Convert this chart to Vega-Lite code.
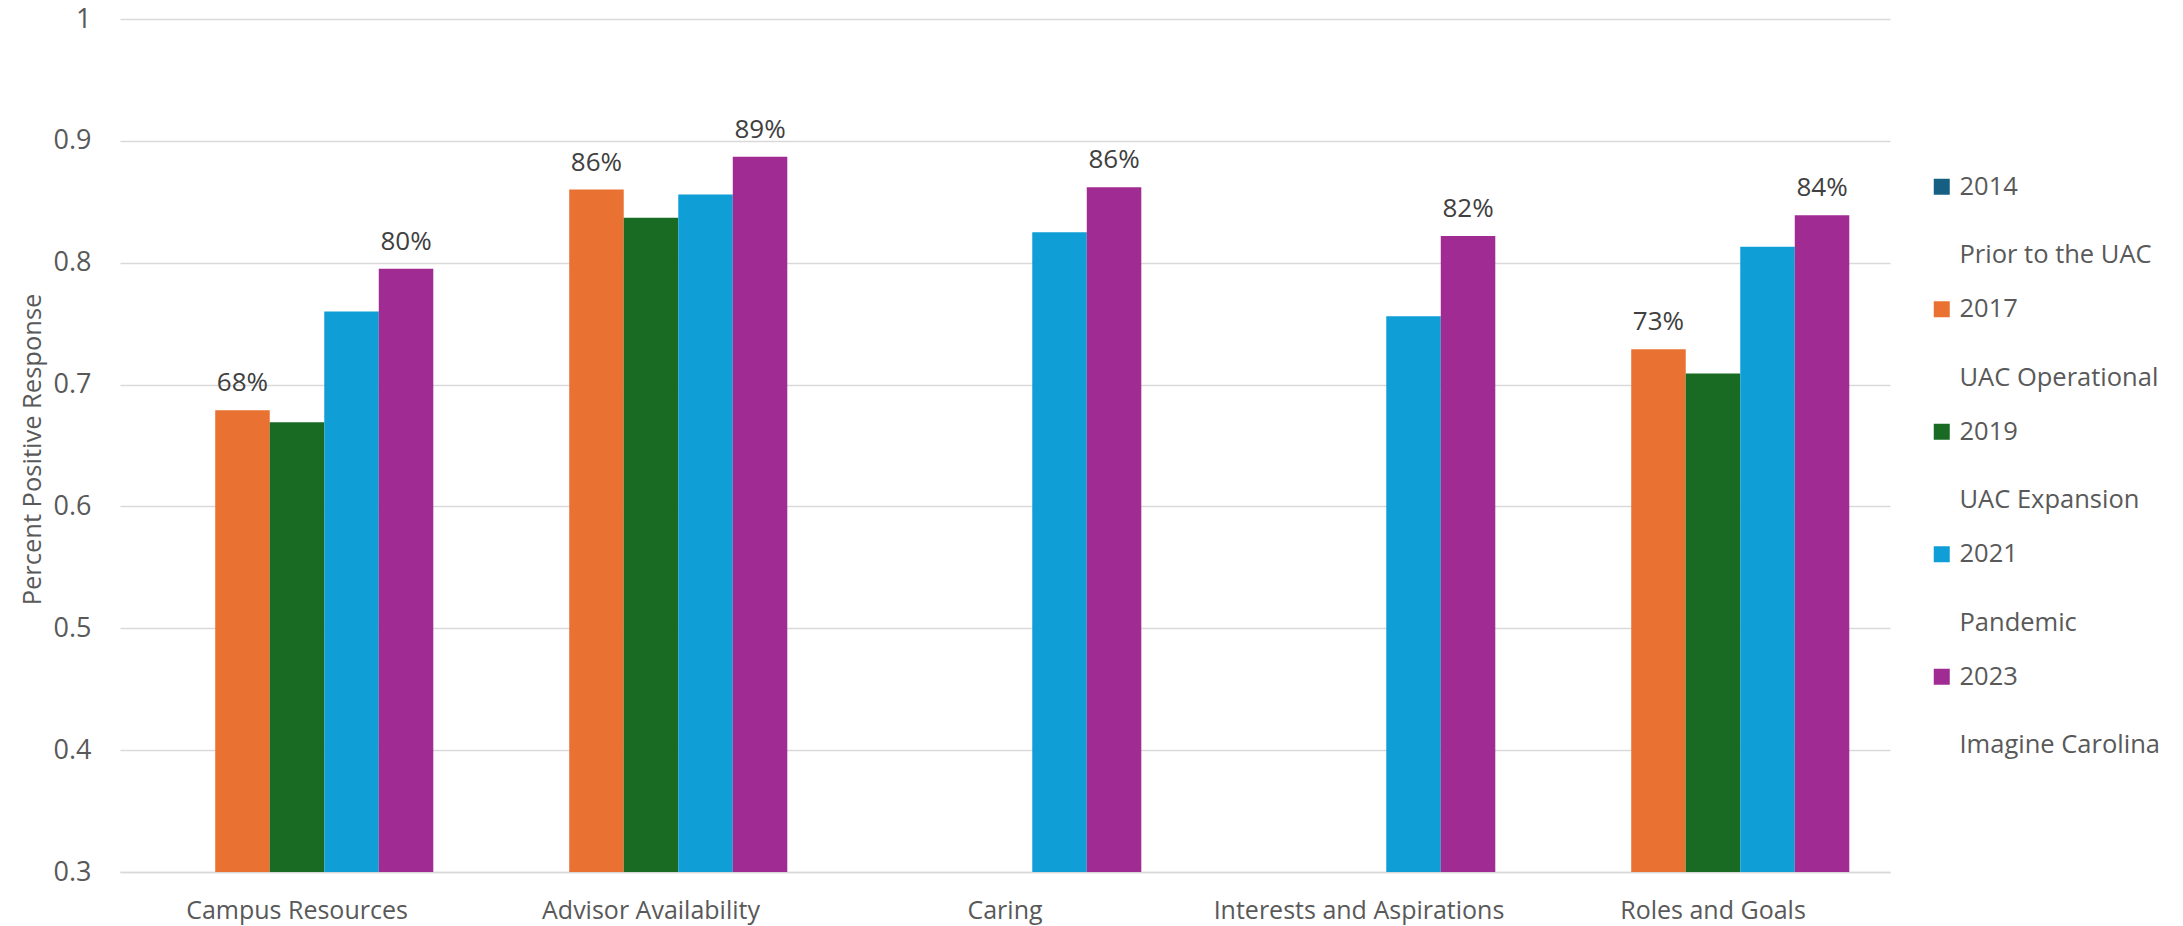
{
  "$schema": "https://vega.github.io/schema/vega-lite/v6.json",
  "width": 1770,
  "height": 853,
  "autosize": {"type": "none"},
  "padding": {"left": 120, "top": 19, "right": 293, "bottom": 54},
  "background": "white",
  "config": {
    "view": {"stroke": null},
    "font": "Open Sans",
    "axis": {"labelFont": "Open Sans", "titleFont": "Open Sans"},
    "legend": {"labelFont": "Open Sans"}
  },
  "data": {
    "values": [
      {"category": "Campus Resources", "series": "2017", "value": 0.679},
      {"category": "Campus Resources", "series": "2019", "value": 0.669},
      {"category": "Campus Resources", "series": "2021", "value": 0.760},
      {"category": "Campus Resources", "series": "2023", "value": 0.795},
      {"category": "Advisor Availability", "series": "2017", "value": 0.860},
      {"category": "Advisor Availability", "series": "2019", "value": 0.837},
      {"category": "Advisor Availability", "series": "2021", "value": 0.856},
      {"category": "Advisor Availability", "series": "2023", "value": 0.887},
      {"category": "Caring", "series": "2021", "value": 0.825},
      {"category": "Caring", "series": "2023", "value": 0.862},
      {"category": "Interests and Aspirations", "series": "2021", "value": 0.756},
      {"category": "Interests and Aspirations", "series": "2023", "value": 0.822},
      {"category": "Roles and Goals", "series": "2017", "value": 0.729},
      {"category": "Roles and Goals", "series": "2019", "value": 0.709},
      {"category": "Roles and Goals", "series": "2021", "value": 0.813},
      {"category": "Roles and Goals", "series": "2023", "value": 0.839}
    ]
  },
  "encoding": {
    "x": {
      "field": "category",
      "type": "nominal",
      "sort": ["Campus Resources", "Advisor Availability", "Caring", "Interests and Aspirations", "Roles and Goals"],
      "scale": {"paddingInner": 0.23, "paddingOuter": 0.115},
      "axis": {
        "title": null,
        "labelAngle": 0,
        "labelFontSize": 25,
        "labelColor": "#595959",
        "labelBaseline": "alphabetic",
        "labelPadding": 46,
        "labelLimit": 0,
        "ticks": false,
        "tickSize": 0,
        "domainColor": "#d9d9d9",
        "domainWidth": 1.5,
        "grid": false
      }
    },
    "xOffset": {
      "field": "series",
      "type": "nominal",
      "scale": {"domain": ["2014", "2017", "2019", "2021", "2023"], "paddingInner": 0, "paddingOuter": 0}
    },
    "y": {
      "field": "value",
      "type": "quantitative",
      "scale": {"domain": [0.3, 1], "zero": false, "nice": false},
      "axis": {
        "values": [0.3, 0.4, 0.5, 0.6, 0.7, 0.8, 0.9, 1],
        "format": "~g",
        "title": "Percent Positive Response",
        "titleFontSize": 25.5,
        "titleFontWeight": "normal",
        "titleColor": "#595959",
        "titleAngle": -90,
        "titleX": -80,
        "titleY": 430,
        "titleAlign": "center",
        "titleBaseline": "alphabetic",
        "labelFontSize": 27,
        "labelColor": "#595959",
        "labelPadding": 29,
        "ticks": false,
        "tickSize": 0,
        "domain": false,
        "grid": true,
        "gridColor": "#d9d9d9",
        "gridWidth": 1.5
      }
    }
  },
  "layer": [
    {
      "mark": {"type": "bar"},
      "encoding": {
        "y2": {"datum": 0.3},
        "color": {
          "field": "series",
          "type": "nominal",
          "scale": {
            "domain": ["2014", "Prior to the UAC", "2017", "UAC Operational", "2019", "UAC Expansion", "2021", "Pandemic", "2023", "Imagine Carolina"],
            "range": ["#156082", "transparent", "#E97132", "transparent", "#196B24", "transparent", "#0F9ED5", "transparent", "#A02B93", "transparent"]
          },
          "legend": {
            "title": null,
            "orient": "none",
            "legendX": 1809,
            "legendY": 155,
            "padding": 0,
            "symbolType": "square",
            "symbolSize": 256,
            "symbolStrokeWidth": 0,
            "labelFontSize": 25.5,
            "labelColor": "#595959",
            "labelOffset": 5,
            "labelLimit": 0,
            "rowPadding": 27.25,
            "encode": {
              "labels": {
                "update": {
                  "dy": {"signal": "indexof(['Prior to the UAC','UAC Operational','UAC Expansion','Pandemic','Imagine Carolina'], datum.value) >= 0 ? 14 : 0"}
                }
              }
            }
          }
        }
      }
    },
    {
      "transform": [{"filter": "datum.series == '2017' || datum.series == '2023'"}],
      "mark": {"type": "text", "baseline": "alphabetic", "align": "center", "dy": -19, "fontSize": 26, "color": "#404040"},
      "encoding": {
        "text": {"field": "value", "type": "quantitative", "format": ".0%"}
      }
    }
  ]
}
